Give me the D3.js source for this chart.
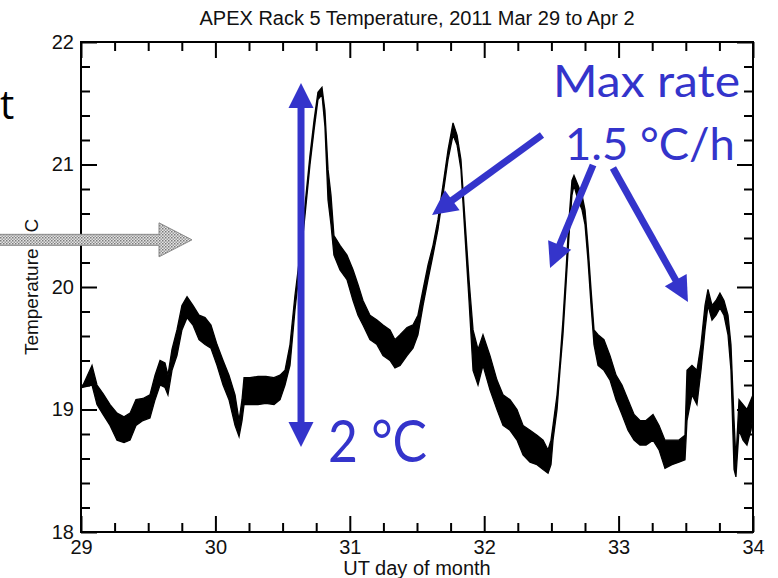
<!DOCTYPE html>
<html>
<head>
<meta charset="utf-8">
<script src="https://cdn.jsdelivr.net/npm/d3@7/dist/d3.min.js"></script>
<style>
  body { margin: 0; background: #fff; }
  svg { display: block; }
</style>
</head>
<body>
<svg id="chart" width="778" height="578"></svg>
<script>
// Rack 5 temperature trace: sample time (UT day of month) with the
// lower and upper edge of the noisy reading at that time (deg C).
const days = [
  29.007, 29.082, 29.119, 29.164, 29.216, 29.268, 29.320, 29.365, 29.409, 29.461,
  29.513, 29.551, 29.588, 29.625, 29.647, 29.677, 29.714, 29.751, 29.789, 29.833,
  29.878, 29.923, 29.967, 30.012, 30.057, 30.101, 30.146, 30.176, 30.198, 30.213,
  30.257, 30.317, 30.376, 30.436, 30.481, 30.518, 30.555, 30.592, 30.629, 30.667,
  30.704, 30.734, 30.763, 30.793, 30.815, 30.838, 30.860, 30.882, 30.927, 30.979,
  31.024, 31.061, 31.098, 31.150, 31.202, 31.247, 31.299, 31.336, 31.374, 31.426,
  31.470, 31.507, 31.545, 31.582, 31.619, 31.656, 31.693, 31.731, 31.768, 31.798,
  31.827, 31.857, 31.887, 31.917, 31.954, 31.991, 32.043, 32.095, 32.140, 32.192,
  32.244, 32.289, 32.341, 32.393, 32.438, 32.475, 32.497, 32.512, 32.542, 32.564,
  32.586, 32.609, 32.631, 32.653, 32.668, 32.698, 32.728, 32.750, 32.772, 32.795,
  32.817, 32.847, 32.891, 32.936, 32.981, 33.025, 33.070, 33.115, 33.159, 33.204,
  33.256, 33.301, 33.345, 33.397, 33.449, 33.494, 33.509, 33.546, 33.583, 33.613,
  33.643, 33.665, 33.695, 33.725, 33.754, 33.784, 33.814, 33.836, 33.859, 33.873,
  33.896, 33.926, 33.955, 33.985, 34.000
];
const tempHigh = [
  19.18, 19.36, 19.20, 19.13, 19.04, 18.97, 18.94, 18.97, 19.08, 19.09,
  19.12, 19.28, 19.40, 19.38, 19.28, 19.49, 19.65, 19.85, 19.92, 19.85,
  19.77, 19.75, 19.69, 19.53, 19.40, 19.28, 19.12, 18.91, 19.08, 19.26,
  19.26, 19.27, 19.27, 19.26, 19.28, 19.32, 19.53, 19.93, 20.26, 20.67,
  21.08, 21.36, 21.59, 21.63, 21.44, 20.96, 20.75, 20.42, 20.34, 20.26,
  20.14, 20.02, 19.89, 19.77, 19.73, 19.69, 19.65, 19.57, 19.61, 19.67,
  19.69, 19.77, 19.98, 20.18, 20.34, 20.55, 20.83, 21.12, 21.34, 21.24,
  21.04, 20.55, 20.06, 19.65, 19.49, 19.61, 19.44, 19.24, 19.12, 19.08,
  19.00, 18.87, 18.83, 18.79, 18.75, 18.67, 18.75, 18.87, 19.12, 19.40,
  19.73, 20.14, 20.55, 20.87, 20.91, 20.83, 20.75, 20.63, 20.34, 19.98,
  19.65, 19.61, 19.57, 19.44, 19.28, 19.20, 19.08, 18.96, 18.91, 18.91,
  18.96, 18.87, 18.75, 18.75, 18.75, 18.79, 19.32, 19.36, 19.32, 19.53,
  19.85, 19.98, 19.85, 19.89, 19.95, 19.89, 19.77, 19.53, 18.91, 18.59,
  19.08, 19.04, 19.00, 19.08, 19.12
];
const tempLow = [
  19.18, 19.20, 19.04, 18.96, 18.87, 18.75, 18.73, 18.75, 18.87, 18.91,
  18.93, 19.08, 19.20, 19.18, 19.12, 19.32, 19.44, 19.65, 19.75, 19.69,
  19.57, 19.53, 19.50, 19.36, 19.20, 19.08, 18.87, 18.78, 18.91, 19.04,
  19.04, 19.04, 19.05, 19.04, 19.08, 19.20, 19.36, 19.81, 20.18, 20.59,
  21.00, 21.28, 21.53, 21.57, 21.31, 20.71, 20.51, 20.26, 20.14, 20.06,
  19.89, 19.77, 19.69, 19.57, 19.53, 19.44, 19.40, 19.34, 19.36, 19.44,
  19.50, 19.61, 19.85, 20.06, 20.26, 20.47, 20.75, 21.04, 21.24, 21.16,
  20.96, 20.42, 19.89, 19.32, 19.20, 19.36, 19.16, 19.00, 18.87, 18.83,
  18.75, 18.63, 18.57, 18.55, 18.51, 18.48, 18.55, 18.75, 19.00, 19.32,
  19.61, 20.02, 20.42, 20.75, 20.83, 20.71, 20.63, 20.51, 20.22, 19.85,
  19.53, 19.36, 19.32, 19.24, 19.08, 18.96, 18.83, 18.75, 18.71, 18.71,
  18.75, 18.67, 18.52, 18.55, 18.57, 18.59, 18.91, 19.12, 19.04, 19.32,
  19.65, 19.85, 19.73, 19.77, 19.83, 19.77, 19.61, 19.32, 18.51, 18.45,
  18.83, 18.75, 18.71, 18.83, 18.96
];

const xMajorTicks = [29, 30, 31, 32, 33, 34];
const xMinorTicks = [29.25, 29.5, 29.75, 30.25, 30.5, 30.75, 31.25, 31.5, 31.75,
                     32.25, 32.5, 32.75, 33.25, 33.5, 33.75];
const yMajorTicks = [18, 19, 20, 21, 22];
const yMinorTicks = [18.2, 18.4, 18.6, 18.8, 19.2, 19.4, 19.6, 19.8,
                     20.2, 20.4, 20.6, 20.8, 21.2, 21.4, 21.6, 21.8];

const titleText = "APEX Rack 5 Temperature, 2011 Mar 29 to Apr 2";
const xLabel = "UT day of month";
const yLabel = "Temperature / C";

// Callouts, placed in data units (day, deg C)
const rangeArrow = { day: 30.637, from: 21.665, to: 18.694, label: "2 °C",
                     labelAt: [30.838, 18.571] };
const rateLabels = [
  { text: "Max rate", at: [32.512, 21.551], len: 187 },
  { text: "1.5 °C/h", at: [32.601, 21.037], len: 170 }
];
const rateArrows = [
  { from: [32.430, 21.241], to: [31.612, 20.588] },
  { from: [32.810, 20.996], to: [32.490, 20.155] },
  { from: [32.958, 20.971], to: [33.516, 19.878] }
];
const pointerArrow = { from: 28.39, to: 29.826, temp: 20.385 };

const svg = d3.select("#chart");
const margin = { left: 81, right: 25, top: 42, bottom: 46 };
const W = 778, H = 578;

const x = d3.scaleLinear().domain([29, 34]).range([margin.left, W - margin.right]);
const y = d3.scaleLinear().domain([18, 22]).range([H - margin.bottom, margin.top]);

const axisFont = "'Liberation Sans', Arial, Helvetica, sans-serif";
const blue = "#3434CB";
const calloutFont = "Lato, 'Open Sans', sans-serif";

// Pattern for the grey stippled pointer
const defs = svg.append("defs");
const pat = defs.append("pattern").attr("id", "stipple")
  .attr("width", 3).attr("height", 3).attr("patternUnits", "userSpaceOnUse");
pat.append("rect").attr("width", 3).attr("height", 3).attr("fill", "#e4e4e4");
pat.append("rect").attr("width", 1.5).attr("height", 1.5).attr("fill", "#7a7a7a");
pat.append("rect").attr("x", 1.5).attr("y", 1.5).attr("width", 1.5).attr("height", 1.5).attr("fill", "#9a9a9a");

// Title
svg.append("text")
  .attr("x", (x.range()[0] + x.range()[1]) / 2)
  .attr("y", 25)
  .attr("text-anchor", "middle")
  .attr("font-family", axisFont)
  .attr("font-size", 20)
  .attr("fill", "#111")
  .text(titleText);

// Axis helper: major ticks (optionally labelled) and minor ticks, pointing inward
function drawAxis(axisFn, scale, transform, major, minor, labelled) {
  const g = svg.append("g").attr("transform", transform);
  g.call(axisFn(scale).tickValues(major).tickSize(-16).tickPadding(labelled ? 7 : 0)
         .tickFormat(labelled ? d3.format("d") : () => ""));
  g.append("g").call(axisFn(scale).tickValues(minor).tickSize(-9).tickFormat(() => ""));
  g.selectAll(".domain").remove();
  g.selectAll("line").attr("stroke", "#000").attr("stroke-width", 2);
  g.selectAll("text").attr("font-family", axisFont).attr("font-size", 20).attr("fill", "#111");
  return g;
}

const x0 = x.range()[0], x1 = x.range()[1], y0 = y.range()[0], y1 = y.range()[1];

// Temperature band
const pts = days.map((d, i) => ({ day: d, lo: tempLow[i], hi: tempHigh[i] }));
const band = d3.area()
  .x(d => x(d.day))
  .y0(d => y(d.lo))
  .y1(d => y(d.hi));
svg.append("path")
  .datum(pts)
  .attr("d", band)
  .attr("fill", "#000")
  .attr("stroke", "#000")
  .attr("stroke-width", 1.3)
  .attr("stroke-linejoin", "miter");

const bottomAxis = drawAxis(d3.axisBottom, x, `translate(0,${y0})`, xMajorTicks, xMinorTicks, true);
bottomAxis.selectAll("text").attr("dy", "0.75em");
drawAxis(d3.axisTop, x, `translate(0,${y1})`, xMajorTicks, xMinorTicks, false);
drawAxis(d3.axisLeft, y, `translate(${x0},0)`, yMajorTicks, yMinorTicks, true);
drawAxis(d3.axisRight, y, `translate(${x1},0)`, yMajorTicks, yMinorTicks, false);

// Frame
svg.append("rect")
  .attr("x", x0).attr("y", y1)
  .attr("width", x1 - x0).attr("height", y0 - y1)
  .attr("fill", "none").attr("stroke", "#000").attr("stroke-width", 2);

// Axis titles
svg.append("text")
  .attr("x", (x0 + x1) / 2).attr("y", 575)
  .attr("text-anchor", "middle")
  .attr("font-family", axisFont).attr("font-size", 20).attr("fill", "#111")
  .text(xLabel);

svg.append("text")
  .attr("transform", `translate(38,${(y0 + y1) / 2}) rotate(-90)`)
  .attr("text-anchor", "middle")
  .attr("font-family", axisFont).attr("font-size", 19).attr("fill", "#111")
  .text(yLabel);

// Slide fragment at the left edge
svg.append("text")
  .attr("x", 0).attr("y", 119)
  .attr("font-family", "'Open Sans', sans-serif")
  .attr("font-size", 40).attr("fill", "#000")
  .text("t");

// Grey stippled pointer
{
  const xs = x(pointerArrow.from), xt = x(pointerArrow.to), yc = y(pointerArrow.temp);
  const headLen = 33, shaftHalf = 5.5, headHalf = 17;
  const xb = xt - headLen;
  const path = d3.path();
  path.moveTo(xs, yc - shaftHalf);
  path.lineTo(xb, yc - shaftHalf);
  path.lineTo(xb, yc - headHalf);
  path.lineTo(xt, yc);
  path.lineTo(xb, yc + headHalf);
  path.lineTo(xb, yc + shaftHalf);
  path.lineTo(xs, yc + shaftHalf);
  path.closePath();
  svg.append("path").attr("d", path.toString())
    .attr("fill", "url(#stipple)").attr("stroke", "#8a8a8a").attr("stroke-width", 1);
}

// Blue callout arrows
function arrowHead(g, tip, dir, len, half) {
  const px = -dir[1], py = dir[0];
  const bx = tip[0] - dir[0] * len, by = tip[1] - dir[1] * len;
  g.append("path")
    .attr("d", `M${tip[0]},${tip[1]}L${bx + px * half},${by + py * half}L${bx - px * half},${by - py * half}Z`)
    .attr("fill", blue);
}
function blueArrow(p0, p1, both) {
  const g = svg.append("g");
  const dx = p1[0] - p0[0], dy = p1[1] - p0[1];
  const L = Math.hypot(dx, dy);
  const dir = [dx / L, dy / L];
  const headLen = 25, half = 12.5;
  const s0 = both ? [p0[0] + dir[0] * (headLen - 2), p0[1] + dir[1] * (headLen - 2)] : p0;
  const s1 = [p1[0] - dir[0] * (headLen - 2), p1[1] - dir[1] * (headLen - 2)];
  g.append("line")
    .attr("x1", s0[0]).attr("y1", s0[1]).attr("x2", s1[0]).attr("y2", s1[1])
    .attr("stroke", blue).attr("stroke-width", 7);
  arrowHead(g, p1, dir, headLen, half);
  if (both) arrowHead(g, p0, [-dir[0], -dir[1]], headLen, half);
}

blueArrow([x(rangeArrow.day), y(rangeArrow.from)], [x(rangeArrow.day), y(rangeArrow.to)], true);
rateArrows.forEach(a => blueArrow([x(a.from[0]), y(a.from[1])], [x(a.to[0]), y(a.to[1])], false));

svg.append("text")
  .attr("x", x(rangeArrow.labelAt[0])).attr("y", y(rangeArrow.labelAt[1]))
  .attr("font-family", calloutFont).attr("font-size", 58).attr("fill", blue)
  .attr("textLength", 99).attr("lengthAdjust", "spacingAndGlyphs")
  .text(rangeArrow.label);

rateLabels.forEach(l => {
  svg.append("text")
    .attr("x", x(l.at[0])).attr("y", y(l.at[1]))
    .attr("font-family", calloutFont).attr("font-size", 45).attr("fill", blue)
    .attr("textLength", l.len).attr("lengthAdjust", "spacingAndGlyphs")
    .text(l.text);
});
</script>
</body>
</html>
